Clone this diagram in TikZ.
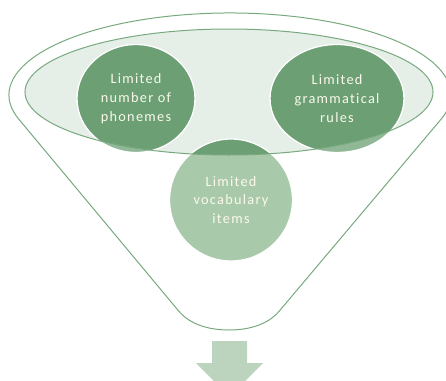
\documentclass[tikz,border=0pt]{standalone}
\usepackage{fontspec}
\setmainfont{Carlito}
\newfontfamily\bubblefont[LetterSpace=9,Ligatures={NoCommon,NoContextual}]{Carlito}
\usetikzlibrary{shapes.geometric}
\definecolor{lineg}{HTML}{78A97E}
\definecolor{ellfill}{HTML}{E6EEE8}
\definecolor{darkg}{HTML}{6C9F74}
\definecolor{lightA}{HTML}{90B897}
\definecolor{lightB}{HTML}{A9C9AB}
\definecolor{arrowg}{HTML}{BCD4BE}
\definecolor{txt}{HTML}{FBF9EC}
\tikzset{
  edgeline/.style={draw=lineg, line width=1pt},
  bubble/.style={ellipse, inner sep=0pt, draw=white, line width=1.3pt,
    align=center, text=txt, font=\bubblefont\fontsize{14.3}{18.7}\selectfont,
    path picture={\fill[darkg] (topell.center) ellipse[x radius=204pt, y radius=63pt];}},
}
\begin{document}
\begin{tikzpicture}[x=1pt,y=1pt,yscale=-1]
\useasboundingbox (0,0) rectangle (446,380);
\clip (0,0) rectangle (446,380);
% funnel outline
\draw[edgeline, line join=round] (18.9,119.3)
  arc[start angle=162.75, end angle=377.25, x radius=221pt, y radius=82pt]
  -- (279,311.4)
  .. controls (271,321) and (255,330) .. (229,330)
  .. controls (203,330) and (187,321) .. (179,311.4)
  -- cycle;
% inner ellipse
\node[ellipse, fill=ellfill, inner sep=0pt, minimum width=408pt, minimum height=126pt] (topell) at (229,92) {};
% bubbles
\node[bubble, fill=lightA, minimum width=118pt, minimum height=108pt] (phon) at (136,98.5) {Limited\\number of\\phonemes};
\node[bubble, fill=lightA, minimum width=134pt, minimum height=108pt] (gram) at (337,98.5) {Limited\\grammatical\\rules};
\node[bubble, fill=lightB, minimum width=123pt, minimum height=122pt] (voc) at (231,200) {Limited\\vocabulary\\items};
% inner ellipse border on top
\draw[edgeline] (topell.center) ellipse[x radius=204pt, y radius=63pt];
% down arrow
\fill[arrowg] (212,341) -- (247,341) -- (247,363) -- (263,363) -- (229.5,397) -- (196,363) -- (212,363) -- cycle;
\end{tikzpicture}
\end{document}
